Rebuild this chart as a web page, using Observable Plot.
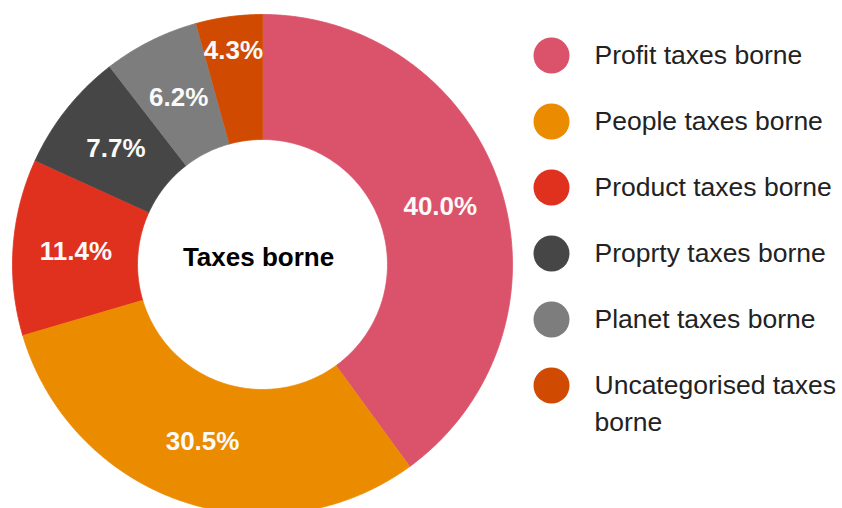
<!DOCTYPE html>
<html>
<head>
<meta charset="utf-8">
<script src="https://cdn.jsdelivr.net/npm/d3@7"></script>
<script src="https://cdn.jsdelivr.net/npm/@observablehq/plot@0.6"></script>
<style>
  html, body { margin: 0; padding: 0; background: #fff; }
  #chart svg { display: block; }
</style>
</head>
<body>
<div id="chart"></div>
<script>
// ---- data ----
const categories = [
  "Profit taxes borne",
  "People taxes borne",
  "Product taxes borne",
  "Proprty taxes borne",
  "Planet taxes borne",
  "Uncategorised taxes borne"
];
const legendLabels = [
  "Profit taxes borne",
  "People taxes borne",
  "Product taxes borne",
  "Proprty taxes borne",
  "Planet taxes borne",
  "Uncategorised taxes\nborne"
];
const values = [40.0, 30.5, 11.4, 7.7, 6.2, 4.3];
const colors = ["#db536a", "#eb8c00", "#e0301e", "#464646", "#7d7d7d", "#d04a02"];
const centerTitle = "Taxes borne";

// ---- layout ----
const W = 842, H = 508;
const cx = 262, cy = 264, R = 250, r0 = 125, labelR = 187;

const pie = d3.pie().sort(null).value(d => d.value);
const arcs = pie(categories.map((c, i) => ({name: c, value: values[i]})));

// polygon points for each slice (angles clockwise from 12 o'clock)
const slicePts = [];
for (const a of arcs) {
  const n = Math.max(4, Math.ceil((a.endAngle - a.startAngle) / 0.01));
  for (let k = 0; k <= n; k++) {
    const t = a.startAngle + (a.endAngle - a.startAngle) * k / n;
    slicePts.push({name: a.data.name, x: cx + R * Math.sin(t), y: cy - R * Math.cos(t)});
  }
  for (let k = n; k >= 0; k--) {
    const t = a.startAngle + (a.endAngle - a.startAngle) * k / n;
    slicePts.push({name: a.data.name, x: cx + r0 * Math.sin(t), y: cy - r0 * Math.cos(t)});
  }
}

const labels = arcs.map(a => {
  const t = (a.startAngle + a.endAngle) / 2;
  const rr = a.data.value < 5 ? 216 : labelR;
  return {text: a.data.value.toFixed(1) + "%", x: cx + rr * Math.sin(t), y: cy - rr * Math.cos(t)};
});

const legend = categories.map((c, i) => ({name: c, label: legendLabels[i], x: 551, y: 55 + i * 66}));

const chart = Plot.plot({
  width: W,
  height: H,
  margin: 0,
  style: {fontFamily: "'Liberation Sans', Arial, sans-serif", background: "#fff"},
  x: {domain: [0, W], range: [0, W], axis: null},
  y: {domain: [0, H], range: [0, H], axis: null},
  color: {domain: categories, range: colors},
  marks: [
    Plot.line(slicePts, {x: "x", y: "y", z: "name", fill: "name", stroke: "name", strokeWidth: 0.8, curve: "linear"}),
    Plot.text(labels, {x: "x", y: "y", text: "text", fill: "#fafafa", fontSize: 26, fontWeight: "bold"}),
    Plot.text([centerTitle], {x: () => cx, y: () => cy, text: d => d, dx: -4, dy: -7, fill: "#000", fontSize: 26, fontWeight: "bold"}),
    Plot.dot(legend, {x: "x", y: "y", r: 18, fill: "name", stroke: null}),
    Plot.text(legend, {x: () => 594, y: "y", text: "label", textAnchor: "start", lineAnchor: "top", dy: -17, lineHeight: 1.38, fontSize: 26.5, fill: "#222"})
  ]
});
document.getElementById("chart").appendChild(chart);
</script>
</body>
</html>
